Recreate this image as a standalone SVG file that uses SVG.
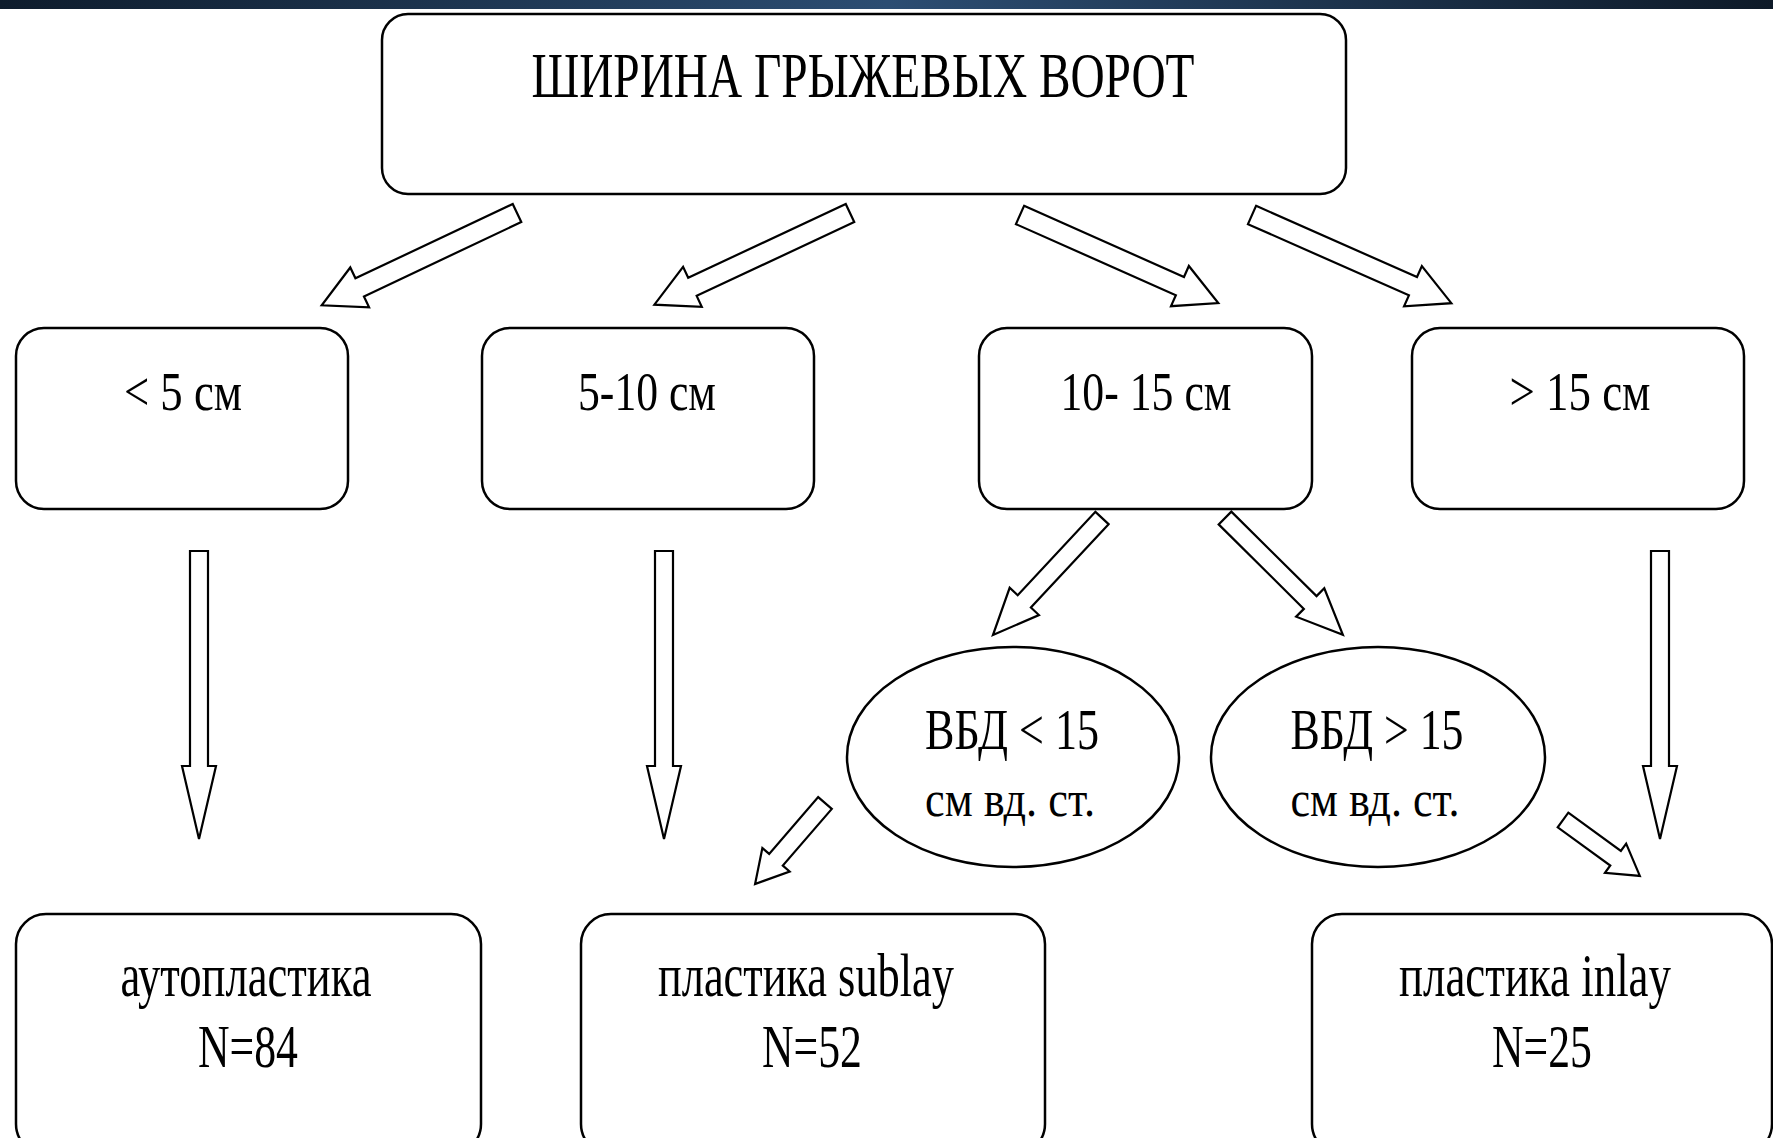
<svg xmlns="http://www.w3.org/2000/svg" width="1773" height="1138" viewBox="0 0 1773 1138">
<style>
.box{fill:#fff;stroke:#000;stroke-width:2.5}
.arr{fill:#fff;stroke:#000;stroke-width:2.2;stroke-linejoin:miter}
.t{font-family:"Liberation Serif","Times New Roman",serif;fill:#000;text-anchor:middle}
</style>
<defs>
<linearGradient id="ban" x1="0" y1="0" x2="1" y2="0">
<stop offset="0" stop-color="#0e1c2c"/>
<stop offset="0.5" stop-color="#2c4d72"/>
<stop offset="1" stop-color="#0e1a28"/>
</linearGradient>
</defs>
<rect x="0" y="0" width="1773" height="1138" fill="#fff"/>
<rect x="0" y="0" width="1773" height="9" fill="url(#ban)"/>

<g id="connectors">
<polygon class="arr" transform="translate(517,213) rotate(154.7)" points="0,-10 174,-10 174,-22 216,0 174,22 174,10 0,10"/>
<polygon class="arr" transform="translate(850,213) rotate(154.9)" points="0,-10 174,-10 174,-22 216,0 174,22 174,10 0,10"/>
<polygon class="arr" transform="translate(1020,215) rotate(23.96)" points="0,-10 175,-10 175,-22 217,0 175,22 175,10 0,10"/>
<polygon class="arr" transform="translate(1252,215) rotate(23.86)" points="0,-10 176,-10 176,-22 218,0 176,22 176,10 0,10"/>
<polygon class="arr" transform="translate(199,551) rotate(90)" points="0,-9 215,-9 215,-17 288,0 215,17 215,9 0,9"/>
<polygon class="arr" transform="translate(664,551) rotate(90)" points="0,-9 215,-9 215,-17 288,0 215,17 215,9 0,9"/>
<polygon class="arr" transform="translate(1660,551) rotate(90)" points="0,-9 215,-9 215,-17 288,0 215,17 215,9 0,9"/>
<polygon class="arr" transform="translate(1102,518) rotate(132.97)" points="0,-9 114,-9 114,-20 160,0 114,20 114,9 0,9"/>
<polygon class="arr" transform="translate(1225,518) rotate(44.76)" points="0,-9 120,-9 120,-20 166,0 120,20 120,9 0,9"/>
<polygon class="arr" transform="translate(825,803) rotate(130.8)" points="0,-9 75,-9 75,-18 107,0 75,18 75,9 0,9"/>
<polygon class="arr" transform="translate(1563,820) rotate(36.03)" points="0,-9 65,-9 65,-18 95,0 65,18 65,9 0,9"/>
</g>

<g id="n-top">
<rect class="box" x="382" y="14" width="964" height="180" rx="26" ry="26"/>
<text class="t" x="863" y="97" font-size="64" textLength="663" lengthAdjust="spacingAndGlyphs">ШИРИНА ГРЫЖЕВЫХ ВОРОТ</text>
</g>

<g id="n-lt5">
<rect class="box" x="16" y="328" width="332" height="181" rx="28" ry="28"/>
<text class="t" x="183" y="410" font-size="54" textLength="118" lengthAdjust="spacingAndGlyphs">&lt; 5 см</text>
</g>
<g id="n-5-10">
<rect class="box" x="482" y="328" width="332" height="181" rx="28" ry="28"/>
<text class="t" x="647" y="410" font-size="54" textLength="138" lengthAdjust="spacingAndGlyphs">5-10 см</text>
</g>
<g id="n-10-15">
<rect class="box" x="979" y="328" width="333" height="181" rx="28" ry="28"/>
<text class="t" x="1146" y="410" font-size="54" textLength="171" lengthAdjust="spacingAndGlyphs">10- 15 см</text>
</g>
<g id="n-gt15">
<rect class="box" x="1412" y="328" width="332" height="181" rx="28" ry="28"/>
<text class="t" x="1580" y="410" font-size="54" textLength="141" lengthAdjust="spacingAndGlyphs">&gt; 15 см</text>
</g>

<g id="n-vbd-lt">
<ellipse class="box" cx="1013" cy="757" rx="166" ry="110"/>
<text class="t" x="1012" y="749" font-size="58" textLength="174" lengthAdjust="spacingAndGlyphs">ВБД &lt; 15</text>
<text class="t" x="1010" y="816" font-size="50" textLength="170" lengthAdjust="spacingAndGlyphs">см вд. ст.</text>
</g>
<g id="n-vbd-gt">
<ellipse class="box" cx="1378" cy="757" rx="167" ry="110"/>
<text class="t" x="1377" y="749" font-size="58" textLength="173" lengthAdjust="spacingAndGlyphs">ВБД &gt; 15</text>
<text class="t" x="1375" y="816" font-size="50" textLength="169" lengthAdjust="spacingAndGlyphs">см вд. ст.</text>
</g>

<g id="n-auto">
<rect class="box" x="16" y="914" width="465" height="240" rx="30" ry="30"/>
<text class="t" x="246" y="996" font-size="62" textLength="251" lengthAdjust="spacingAndGlyphs">аутопластика</text>
<text class="t" x="248" y="1067" font-size="62" textLength="100" lengthAdjust="spacingAndGlyphs">N=84</text>
</g>
<g id="n-sublay">
<rect class="box" x="581" y="914" width="464" height="240" rx="30" ry="30"/>
<text class="t" x="806" y="996" font-size="62" textLength="296" lengthAdjust="spacingAndGlyphs">пластика sublay</text>
<text class="t" x="812" y="1067" font-size="62" textLength="100" lengthAdjust="spacingAndGlyphs">N=52</text>
</g>
<g id="n-inlay">
<rect class="box" x="1312" y="914" width="460" height="240" rx="30" ry="30"/>
<text class="t" x="1535" y="996" font-size="62" textLength="272" lengthAdjust="spacingAndGlyphs">пластика inlay</text>
<text class="t" x="1542" y="1067" font-size="62" textLength="100" lengthAdjust="spacingAndGlyphs">N=25</text>
</g>
</svg>
